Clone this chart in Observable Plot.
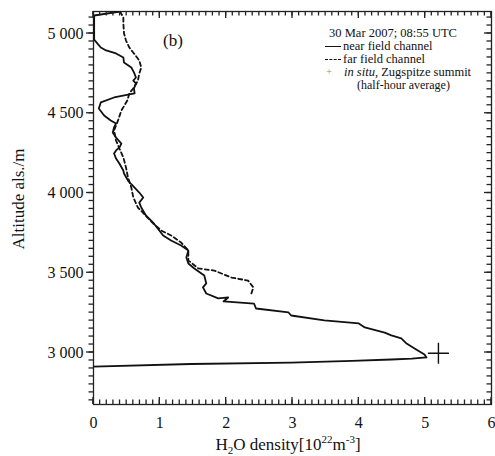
<!DOCTYPE html>
<html>
<head>
<meta charset="utf-8">
<script src="https://cdn.jsdelivr.net/npm/d3@7"></script>
<script src="https://cdn.jsdelivr.net/npm/@observablehq/plot@0.6"></script>
<style>
  body { margin: 0; background: #fff; }
  #wrap { position: relative; width: 495px; height: 456px; font-family: "Liberation Serif", "Times New Roman", serif; color: #111; }
  .abs { position: absolute; white-space: nowrap; }
  .leg { font-size: 12.5px; line-height: 1; }
</style>
</head>
<body>
<div id="wrap"></div>
<script>
// ---- data ----
const nearDensity  = [0.40,0.01,0.01,0.11,0.19,0.34,0.45,0.46,0.57,0.61,0.64,0.60,0.64,0.61,0.62,0.31,0.11,0.08,0.16,0.26,0.34,0.31,0.29,0.34,0.42,0.39,0.34,0.31,0.34,0.39,0.45,0.46,0.52,0.57,0.69,0.75,0.69,0.72,0.79,0.91,1.05,1.17,1.32,1.43,1.40,1.43,1.52,1.67,1.70,1.65,1.70,1.88,2.03,1.96,2.42,2.45,2.94,2.98,3.48,4.00,4.09,4.39,4.49,4.64,4.72,4.84,4.99,5.02,4.80,4.49,3.90,2.98,1.47,0.00];
const nearAltitude = [5138,5113,4962,4912,4894,4875,4850,4818,4787,4756,4724,4705,4687,4655,4624,4599,4568,4530,4486,4455,4436,4411,4379,4348,4310,4285,4267,4248,4216,4185,4141,4122,4078,4055,4003,3972,3940,3909,3859,3809,3734,3702,3671,3640,3596,3558,3527,3483,3433,3408,3370,3339,3345,3320,3307,3276,3251,3232,3201,3182,3157,3125,3107,3088,3056,3025,2987,2969,2962,2956,2947,2937,2928,2912];
const farDensity   = [0.40,0.45,0.45,0.46,0.49,0.54,0.61,0.69,0.72,0.69,0.67,0.61,0.54,0.51,0.42,0.37,0.31,0.34,0.39,0.45,0.49,0.52,0.57,0.60,0.67,0.90,1.02,1.17,1.32,1.43,1.43,1.58,1.82,2.08,2.33,2.41,2.38];
const farAltitude  = [5138,5100,5063,5000,4956,4912,4875,4831,4787,4749,4705,4662,4624,4580,4517,4455,4392,4329,4279,4223,4160,4097,4035,3972,3909,3809,3765,3734,3690,3640,3577,3527,3514,3470,3451,3408,3370];
const inSituDensity  = [5.2];
const inSituAltitude = [2995];

const xTicks = [0, 1, 2, 3, 4, 5, 6];
const yTicks = [3000, 3500, 4000, 4500, 5000];
const xMinor = d3.range(0, 60.5, 1).map(i => i / 10);
const yMinor = d3.range(2700, 5150, 50);

const near = nearDensity.map((v, i) => ({x: v, y: nearAltitude[i]}));
const far = farDensity.map((v, i) => ({x: v, y: farAltitude[i]}));
const insitu = inSituDensity.map((v, i) => ({x: v, y: inSituAltitude[i]}));

// ---- layout ----
const W = 495, H = 456;
const mL = 93, mR = 4, mT = 11, mB = 52;
const fmtY = d => d3.format(",")(d).replace(",", " ");

const plusSymbol = {
  draw(ctx, size) {
    const r = Math.sqrt(size / Math.PI);
    ctx.moveTo(-r, 0); ctx.lineTo(r, 0);
    ctx.moveTo(0, -r); ctx.lineTo(0, r);
  }
};

const chart = Plot.plot({
  width: W, height: H,
  marginLeft: mL, marginRight: mR, marginTop: mT, marginBottom: mB,
  style: {fontFamily: "Liberation Serif, Times New Roman, serif", color: "#111", background: "#fff"},
  x: {domain: [0, 6]},
  y: {domain: [2674, 5138]},
  marks: [
    Plot.axisY({ticks: yTicks, tickSize: 0, tickPadding: 10, tickFormat: fmtY, fontSize: 16, label: null}),
    Plot.axisX({ticks: xTicks, tickSize: 0, tickPadding: 12, tickFormat: d3.format("d"), fontSize: 16, label: null}),
    Plot.frame({stroke: "#222", strokeWidth: 1.3}),
    Plot.line(far, {x: "x", y: "y", stroke: "#111", strokeWidth: 1.8, strokeDasharray: "4,3", clip: true}),
    Plot.line(near, {x: "x", y: "y", stroke: "#111", strokeWidth: 1.8, clip: true}),
    Plot.dot(insitu, {x: "x", y: "y", symbol: plusSymbol, r: 10.5, stroke: "#111", strokeWidth: 1.4, fill: "none"})
  ]
});

// ---- tick marks drawn from Plot's own scales ----
const sx = chart.scale("x"), sy = chart.scale("y");
const x0 = mL, x1 = W - mR, y0 = mT, y1 = H - mB;
const g = d3.select(chart).append("g").attr("stroke", "#222").attr("stroke-width", 1.3);
function vt(xs, yA, len) {
  for (const v of xs) {
    const px = sx.apply(v);
    g.append("line").attr("x1", px).attr("x2", px).attr("y1", yA).attr("y2", yA + len);
  }
}
function ht(ys, xA, len) {
  for (const v of ys) {
    const py = sy.apply(v);
    g.append("line").attr("y1", py).attr("y2", py).attr("x1", xA).attr("x2", xA + len);
  }
}
vt(xMinor, y1, -4.5); vt(xTicks, y1, -7);   // bottom, inward
vt(xMinor, y0, 4.5);  vt(xTicks, y0, 7);    // top, inward
ht(yMinor, x0, -4.5); ht(yTicks, x0, -7);   // left, outward
ht(yMinor, x1, -4.5); ht(yTicks, x1, -7);   // right, inward

const wrap = document.getElementById("wrap");
wrap.appendChild(chart);

function addHTML(html, css, cls) {
  const d = document.createElement("div");
  d.className = "abs " + (cls || "");
  d.innerHTML = html;
  Object.assign(d.style, css);
  wrap.appendChild(d);
  return d;
}

// axis titles
addHTML("Altitude als./m", {left: "19px", top: "199px", fontSize: "17px", transform: "translate(-50%,-50%) rotate(-90deg)"});
addHTML('H<sub style="font-size:11px">2</sub>O density[10<sup style="font-size:11px">22</sup>m<sup style="font-size:11px">-3</sup>]',
        {left: "288px", top: "445px", fontSize: "17px", transform: "translate(-50%,-50%)", lineHeight: "1"});
// panel label
addHTML("(b)", {left: "173px", top: "40px", fontSize: "17px", transform: "translate(-50%,-50%)", lineHeight: "1"});

// legend
addHTML("30 Mar 2007; 08:55 UTC", {left: "393px", top: "33px", transform: "translate(-50%,-50%)"}, "leg");
addHTML("", {left: "325px", top: "46px", width: "16px", borderTop: "1.7px solid #111"});
addHTML("near field channel", {left: "343px", top: "46px", transform: "translateY(-50%)"}, "leg");
addHTML("", {left: "325px", top: "59px", width: "16px", borderTop: "1.7px dashed #111"});
addHTML("far field channel", {left: "343px", top: "59px", transform: "translateY(-50%)"}, "leg");
addHTML("+", {left: "329px", top: "72px", transform: "translate(-50%,-50%)", fontSize: "10px", color: "#888"}, "leg");
addHTML("<i>in situ</i>, Zugspitze summit", {left: "344px", top: "72px", transform: "translateY(-50%)"}, "leg");
addHTML("(half-hour average)", {left: "357px", top: "85px", transform: "translateY(-50%)", fontSize: "12px"}, "leg");
</script>
</body>
</html>
